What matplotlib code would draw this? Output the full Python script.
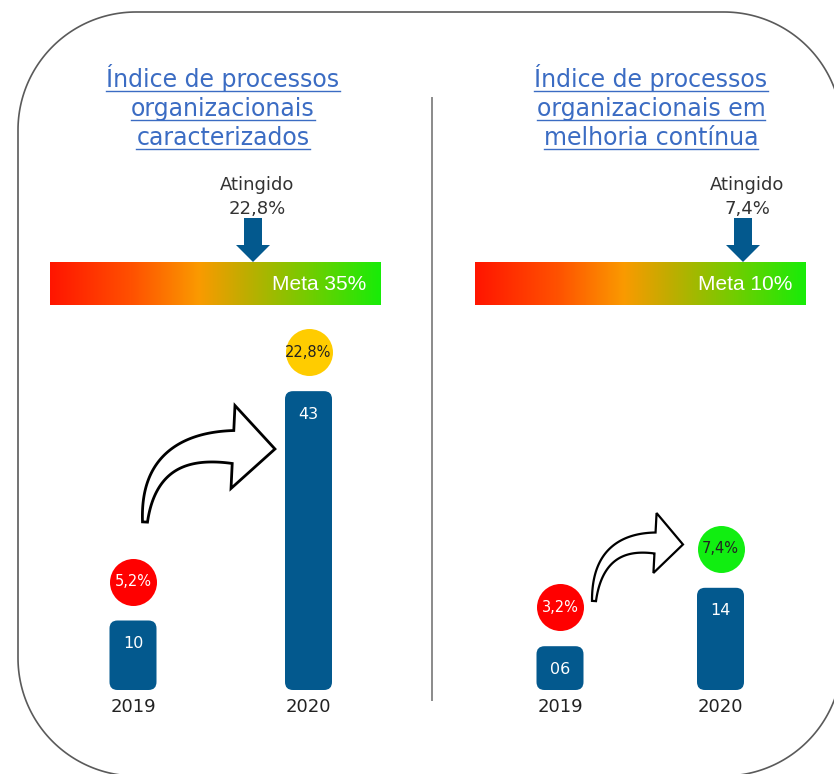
import numpy as np
import matplotlib
matplotlib.use("Agg")
import matplotlib.pyplot as plt
from matplotlib.patches import FancyBboxPatch, Polygon
from matplotlib.colors import LinearSegmentedColormap
from matplotlib.transforms import offset_copy

# ---------------- data ----------------
years = ["2019", "2020"]
left_title = ["Índice de processos", "organizacionais", "caracterizados"]
right_title = ["Índice de processos", "organizacionais em", "melhoria contínua"]
left_counts = [10, 43]
right_counts = [6, 14]
left_count_labels = ["10", "43"]
right_count_labels = ["06", "14"]
left_pcts = ["5,2%", "22,8%"]
right_pcts = ["3,2%", "7,4%"]
left_pct_colors = ["#ff0000", "#ffcc00"]
right_pct_colors = ["#ff0000", "#11ee11"]
left_pct_text_colors = ["white", "#222222"]
right_pct_text_colors = ["white", "#222222"]
left_achieved = "22,8%"
right_achieved = "7,4%"
left_goal = "Meta 35%"
right_goal = "Meta 10%"

# ---------------- style ----------------
W, H, DPI = 834, 774, 100
BAR_COLOR = "#03598e"
TITLE_COLOR = "#3b6cc3"
FONT = ["DejaVu Sans"]
GOAL_FONT = ["Liberation Sans", "DejaVu Sans"]
plt.rcParams["font.family"] = FONT

fig = plt.figure(figsize=(W / DPI, H / DPI), dpi=DPI)
fig.patch.set_facecolor("white")
bg = fig.add_axes([0, 0, 1, 1])
bg.set_axis_off()
bg.set_xlim(0, W)
bg.set_ylim(H, 0)
bg.set_autoscale_on(False)


def rounded_rect(x0, y0, x1, y1, r, n=60):
    pts = []
    corners = [(x1 - r, y0 + r, -90, 0), (x1 - r, y1 - r, 0, 90),
               (x0 + r, y1 - r, 90, 180), (x0 + r, y0 + r, 180, 270)]
    for cx, cy, a0, a1 in corners:
        a = np.radians(np.linspace(a0, a1, n))
        pts.append(np.column_stack([cx + r * np.cos(a), cy + r * np.sin(a)]))
    return np.vstack(pts)


# outer rounded frame
bg.add_patch(Polygon(rounded_rect(18, 12, 842, 776, 118), closed=True,
                     fc="none", ec="#5a5a5a", lw=1.2, zorder=1))
# divider
bg.plot([432, 432], [98, 700], color="#8a8a8a", lw=1.4, zorder=1)

# titles (underlined)
title_texts = []
for lines, cx in ((left_title, 223), (right_title, 651)):
    for k, line in enumerate(lines):
        t = bg.text(cx, 87 + 29 * k, line, ha="center", va="baseline",
                    fontsize=17, color=TITLE_COLOR, zorder=3)
        title_texts.append(t)

# gradient bars
cmap = LinearSegmentedColormap.from_list(
    "grad", [(0.0, "#ff1500"), (0.25, "#ff5200"), (0.45, "#fa9a00"),
             (0.60, "#bcae00"), (0.78, "#74cc00"), (1.0, "#18ec08")])
grad = np.linspace(0, 1, 256).reshape(1, -1)
for (x0, x1), goal, (ax_cx, ach), ex in (
        ((50, 381), left_goal, (253, left_achieved), 366),
        ((475, 806), right_goal, (743, right_achieved), 792)):
    bg.imshow(grad, extent=[x0, x1, 305, 262], aspect="auto", cmap=cmap,
              interpolation="bicubic", zorder=2)
    bg.text(ex, 285, goal, ha="right", va="center", color="white",
            fontsize=15, family=GOAL_FONT, zorder=4)
    # Atingido label
    bg.text(ax_cx + 4, 185, "Atingido", ha="center", va="center", fontsize=13,
            color="#333333", zorder=3)
    bg.text(ax_cx + 4, 209, ach, ha="center", va="center", fontsize=13,
            color="#333333", zorder=3)
    # down arrow
    sw, hw, top, base, tip = 18, 34, 218, 245, 262
    pts = [(ax_cx - sw / 2, top), (ax_cx + sw / 2, top), (ax_cx + sw / 2, base),
           (ax_cx + hw / 2, base), (ax_cx, tip), (ax_cx - hw / 2, base),
           (ax_cx - sw / 2, base)]
    bg.add_patch(Polygon(pts, closed=True, fc=BAR_COLOR, ec="none", zorder=5))


def curved_arrow(ax, p0, p1, p2, w0, w1, head_w, head_l, lw=1.6):
    p0, p1, p2 = map(np.asarray, (p0, p1, p2))
    t = np.linspace(0, 1, 80)[:, None]
    pts = (1 - t) ** 2 * p0 + 2 * (1 - t) * t * p1 + t ** 2 * p2
    tan = 2 * (1 - t) * (p1 - p0) + 2 * t * (p2 - p1)
    tan = tan / np.linalg.norm(tan, axis=1, keepdims=True)
    nrm = np.column_stack([tan[:, 1], -tan[:, 0]])
    w = (w0 + (w1 - w0) * t[:, 0])[:, None] / 2
    left = pts + nrm * w
    right = pts - nrm * w
    te, ne = tan[-1], nrm[-1]
    hl = p2 + ne * head_w / 2
    hr = p2 - ne * head_w / 2
    tipp = p2 + te * head_l
    poly = np.vstack([left, hl, tipp, hr, right[::-1]])
    ax.add_patch(Polygon(poly, closed=True, fc="white", ec="black", lw=lw,
                         joinstyle="miter", zorder=4))


curved_arrow(bg, (145, 522), (149, 443), (233, 447), 5, 33, 83, 42, lw=2.0)
curved_arrow(bg, (594, 601), (598, 540), (655, 543), 4, 21, 60, 28, lw=1.6)


# ---------------- bar panels ----------------
def bar_panel(x0, x1, top, base, c0, c1, px_per_unit, counts, count_labels,
              pcts, pct_colors, pct_text_colors, bar_px=47, circ_off=39):
    ax = fig.add_axes([x0 / W, (H - base) / H, (x1 - x0) / W, (base - top) / H])
    ax.set_axis_off()
    ax.patch.set_alpha(0)
    px_x = c1 - c0
    lo = -(c0 - x0) / px_x
    ax.set_xlim(lo, lo + (x1 - x0) / px_x)
    ax.set_ylim(0, (base - top) / px_per_unit)
    bw = bar_px / px_x
    asp = px_x / px_per_unit
    r = 8 / px_x
    xs = np.arange(len(counts))
    for i, v in zip(xs, counts):
        ax.add_patch(FancyBboxPatch((i - bw / 2, 0), bw, v,
                                    boxstyle=f"round,pad=0,rounding_size={r}",
                                    mutation_aspect=asp, fc=BAR_COLOR, ec="none",
                                    transform=ax.transData, clip_on=False))
    for i, v, lab in zip(xs, counts, count_labels):
        ax.annotate(lab, xy=(i, v), xytext=(0, -23), textcoords="offset pixels",
                    ha="center", va="center", color="white", fontsize=11.5)
    circ_tr = offset_copy(ax.transData, fig=fig, y=circ_off, units="dots")
    for i, v, p, c, tc in zip(xs, counts, pcts, pct_colors, pct_text_colors):
        ax.plot([i], [v], "o", ms=47 * 72 / DPI, mfc=c, mec="none",
                transform=circ_tr, clip_on=False)
        ax.annotate(p, xy=(i, v), xytext=(0, circ_off), textcoords="offset pixels",
                    ha="center", va="center", color=tc, fontsize=10.5,
                    annotation_clip=False)
    for i, y in zip(xs, years):
        ax.annotate(y, xy=(i, 0), xytext=(0, -17), textcoords="offset pixels",
                    ha="center", va="center", color="#222222", fontsize=13,
                    annotation_clip=False)
    return ax


bar_panel(45, 395, 330, 690, 133, 308.5, 6.95, left_counts, left_count_labels,
          left_pcts, left_pct_colors, left_pct_text_colors)
bar_panel(470, 800, 330, 690, 560, 720.5, 7.3, right_counts, right_count_labels,
          right_pcts, right_pct_colors, right_pct_text_colors)

# underline titles
fig.canvas.draw()
renderer = fig.canvas.get_renderer()
inv = bg.transData.inverted()
for t in title_texts:
    bb = t.get_window_extent(renderer)
    (xa, _), (xb, _) = inv.transform([(bb.x0, 0), (bb.x1, 0)])
    yb = t.get_position()[1] + 4
    bg.plot([xa, xb], [yb, yb], color=TITLE_COLOR, lw=1.0, zorder=3)

fig.savefig("out.png", dpi=DPI, facecolor="white")
